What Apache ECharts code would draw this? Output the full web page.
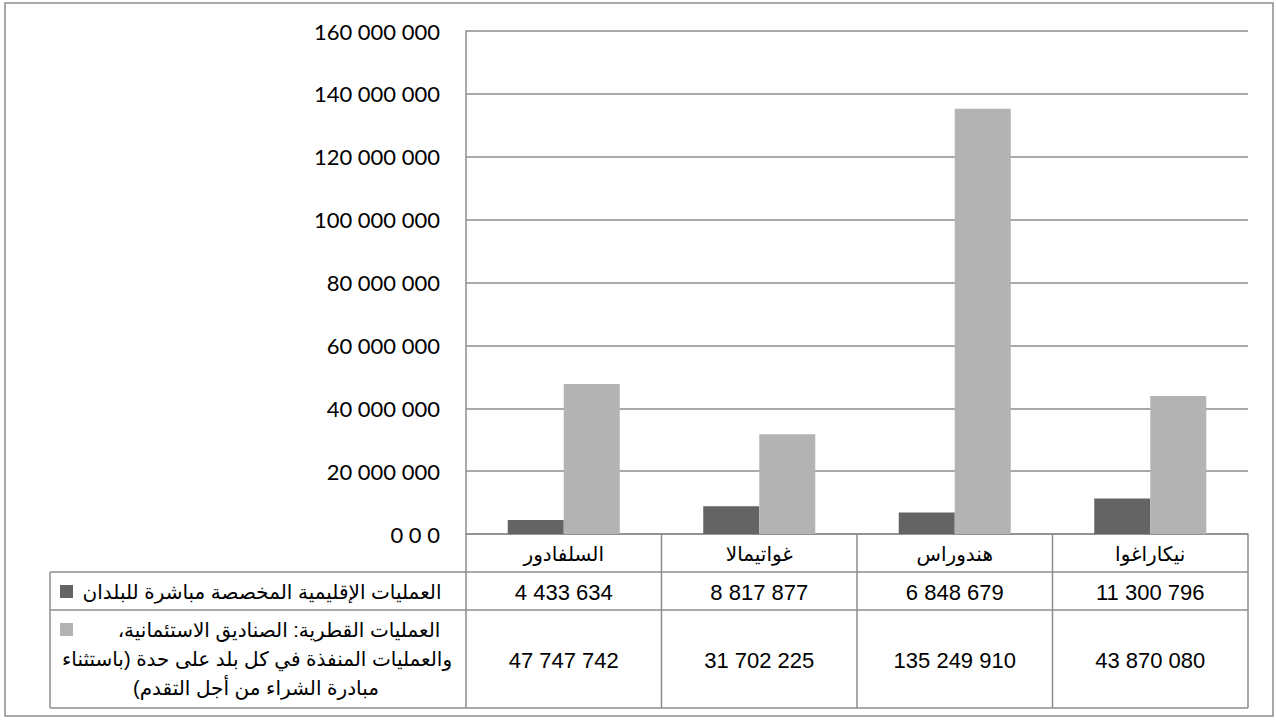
<!DOCTYPE html>
<html>
<head>
<meta charset="utf-8">
<script src="https://cdn.jsdelivr.net/npm/echarts@6/dist/echarts.min.js"></script>
<style>
  html, body { margin: 0; padding: 0; background: #ffffff; }
  #chart { width: 1276px; height: 720px; }
</style>
</head>
<body>
<div id="chart"></div>
<script>
// Countries (columns of the chart and of the data table)
const categories = ['السلفادور', 'غواتيمالا', 'هندوراس', 'نيكاراغوا'];

// Regional operations allocated directly to countries
const regionalOps = [4433634, 8817877, 6848679, 11300796];
const regionalName = ['العمليات الإقليمية المخصصة مباشرة للبلدان'];

// Country operations: trust funds and operations run in each country
const countryOps = [47747742, 31702225, 135249910, 43870080];
const countryName = [
  'العمليات القطرية: الصناديق الاستئمانية،',
  'والعمليات المنفذة في كل بلد على حدة (باستثناء',
  'مبادرة الشراء من أجل التقدم)'
];

// Value axis ticks
const yTicks = [0, 20000000, 40000000, 60000000, 80000000, 100000000, 120000000, 140000000, 160000000];
const yTickLabels = ['0 0 0', '20 000 000', '40 000 000', '60 000 000', '80 000 000',
  '100 000 000', '120 000 000', '140 000 000', '160 000 000'];

const RLM = '\u200F';
const colors = ['#646464', '#b3b3b3'];
const lineColor = '#8c8c8c';
const tableFont = '"Liberation Sans", Arial, "DejaVu Sans", sans-serif';

function groupDigits(v) {
  return String(v).replace(/\B(?=(\d{3})+(?!\d))/g, ' ');
}

const chart = echarts.init(document.getElementById('chart'), null, { renderer: 'svg' });

chart.setOption({
  animation: false,
  backgroundColor: '#ffffff',
  grid: { left: 466, right: 28, top: 31, bottom: 186 },
  xAxis: {
    type: 'category',
    data: categories,
    axisLine: { show: true, lineStyle: { color: lineColor, width: 1.5 } },
    axisTick: { show: false },
    axisLabel: { show: false },
    splitLine: { show: false }
  },
  yAxis: {
    type: 'value',
    min: yTicks[0],
    max: yTicks[yTicks.length - 1],
    interval: yTicks[1] - yTicks[0],
    axisLine: { show: true, lineStyle: { color: lineColor, width: 1.5 } },
    axisTick: { show: false },
    splitLine: { show: true, lineStyle: { color: lineColor, width: 1.5 } },
    axisLabel: {
      margin: 26,
      color: '#000000',
      fontFamily: 'Lato, "Open Sans", sans-serif',
      fontSize: 22,
      formatter: function (v) {
        const i = yTicks.indexOf(v);
        return i >= 0 ? yTickLabels[i] : groupDigits(v);
      }
    }
  },
  series: [
    {
      type: 'bar',
      name: regionalName.join(' '),
      data: regionalOps,
      itemStyle: { color: colors[0] },
      barGap: '0%',
      barCategoryGap: '42.7%',
      silent: true
    },
    {
      type: 'bar',
      name: countryName.join(' '),
      data: countryOps,
      itemStyle: { color: colors[1] },
      barGap: '0%',
      barCategoryGap: '42.7%',
      silent: true
    }
  ]
});

// Data table below the plot, aligned on the category axis
function buildTable() {
  const centers = categories.map(c => chart.convertToPixel({ xAxisIndex: 0 }, c));
  const half = (centers[1] - centers[0]) / 2;
  const bounds = [centers[0] - half].concat(centers.map(c => c + half));
  const yAxis0 = chart.convertToPixel({ yAxisIndex: 0 }, 0);
  const tableLeft = 50;
  const yHead = yAxis0 + 38;     // bottom of the country header row
  const yRow1 = yHead + 38;      // bottom of the first series row
  const yRow2 = yRow1 + 98;      // bottom of the second series row

  const els = [];
  const line = (x1, y1, x2, y2) => els.push({
    type: 'line', silent: true,
    shape: { x1, y1, x2, y2 },
    style: { stroke: lineColor, lineWidth: 1.5 }
  });
  const text = (str, x, y, size) => els.push({
    type: 'text', silent: true,
    style: {
      text: str, x, y, align: 'center', verticalAlign: 'middle',
      fontFamily: tableFont, fontSize: size, fill: '#000000'
    }
  });

  // Outer frame of the chart
  els.push({
    type: 'rect', silent: true,
    shape: { x: 5, y: 3, width: 1268, height: 713 },
    style: { fill: 'none', stroke: lineColor, lineWidth: 1.5 }
  });

  // Horizontal rules
  line(tableLeft, yHead, bounds[4], yHead);
  line(tableLeft, yRow1, bounds[4], yRow1);
  line(tableLeft, yRow2, bounds[4], yRow2);
  // Vertical rules
  line(tableLeft, yHead, tableLeft, yRow2);
  bounds.forEach(x => line(x, yAxis0, x, yRow2));

  // Country header and values
  categories.forEach((c, i) => {
    text(c + RLM, centers[i], (yAxis0 + yHead) / 2 + 1, 20);
    text(groupDigits(regionalOps[i]), centers[i], (yHead + yRow1) / 2 + 1, 22);
    text(groupDigits(countryOps[i]), centers[i], (yRow1 + yRow2) / 2 + 1, 22);
  });

  // Row headers with legend keys
  const key = (y, color) => els.push({
    type: 'rect', silent: true,
    shape: { x: 60, y: y, width: 13, height: 13 },
    style: { fill: color }
  });
  key((yHead + yRow1) / 2 - 6, colors[0]);
  text(regionalName[0] + RLM, 262, (yHead + yRow1) / 2 + 1, 20);

  key(yRow1 + 13, colors[1]);
  const lineCenters = [279, 257, 256];
  countryName.forEach((s, k) => {
    text(s + RLM, lineCenters[k], yRow1 + 20 + k * 29, 20);
  });

  chart.setOption({ graphic: { elements: els } });
}

buildTable();
</script>
</body>
</html>
